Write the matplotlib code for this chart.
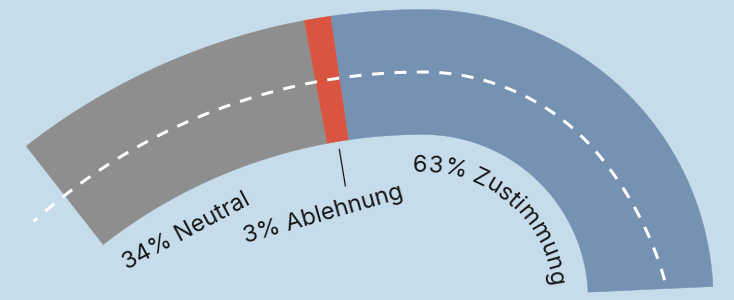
import numpy as np
import matplotlib
matplotlib.use("Agg")
import matplotlib.pyplot as plt
from matplotlib.patches import Polygon
from matplotlib.font_manager import FontProperties, findfont, get_font

plt.rcParams["lines.scale_dashes"] = False

# ---------------- data ----------------
categories = ["Neutral", "Ablehnung", "Zustimmung"]
values = [34, 3, 63]
labels = ["34% Neutral", "3% Ablehnung", "63% Zustimmung"]
colors = ["#8e8e8e", "#d95541", "#7692b3"]

BG = "#c6dcea"
TEXT = "#161616"
FONT = "Inter"
FS = 17.0  # pt

# ---------------- road geometry (pixels, y down) ----------------
W, H = 734, 300
C1 = np.array([423.0, 654.0]); R1 = 582.0     # wide left bend
C2 = np.array([423.0, 299.7]); R2 = 227.7     # tight right bend
HALF = 62.5
PHI_L, PHI_TOP, PHI_R = 128.0, 90.0, 2.6
W_OFF = 108.0

len1 = np.deg2rad(PHI_L - PHI_TOP) * (R1 + W_OFF)
len2 = np.deg2rad(PHI_TOP - PHI_R) * (R2 + W_OFF)
total = len1 + len2


def track_point(u, off):
    s = u * total
    if s <= len1:
        phi = np.deg2rad(PHI_L) - s / (R1 + W_OFF)
        c, r = C1, R1 + off
    else:
        phi = np.deg2rad(PHI_TOP) - (s - len1) / (R2 + W_OFF)
        c, r = C2, R2 + off
    return c[0] + r * np.cos(phi), c[1] - r * np.sin(phi), c, phi


fig = plt.figure(figsize=(7.34, 3.0), dpi=100)
fig.patch.set_facecolor(BG)
ax = fig.add_axes([0, 0, 1, 1])
ax.set_facecolor(BG)
ax.set_xlim(0, W)
ax.set_ylim(H, 0)
ax.axis("off")

fracs = np.array(values, dtype=float) / np.sum(values)
edges = np.concatenate([[0], np.cumsum(fracs)])
for i, col in enumerate(colors):
    us = np.linspace(edges[i], edges[i + 1], 200)
    outer = [track_point(u, HALF)[:2] for u in us]
    inner = [track_point(u, -HALF)[:2] for u in us[::-1]]
    ax.add_patch(Polygon(outer + inner, closed=True, facecolor=col,
                         edgecolor=col, linewidth=0.3, zorder=2))

# ---------------- dashed centre line ----------------
a1 = np.deg2rad(np.linspace(132.0, 90.0, 300))
x1 = C1[0] + R1 * np.cos(a1); y1 = C1[1] - R1 * np.sin(a1)
d2 = np.linspace(90.0, PHI_R, 400)
drift = np.where(d2 < 40, 16.5 * ((40 - d2) / 37.5) ** 2, 0.0)
a2 = np.deg2rad(d2)
x2 = C2[0] + (R2 + drift) * np.cos(a2); y2 = C2[1] - (R2 + drift) * np.sin(a2)
px2pt = 72.0 / 100.0
ax.plot(np.concatenate([x1, x2]), np.concatenate([y1, y2]),
        color="white", lw=3 * px2pt, zorder=3, dash_capstyle="butt",
        linestyle=(7 * px2pt, (12 * px2pt, 10.5 * px2pt)))

# ---------------- labels ----------------
# leader for Ablehnung at the middle of the red segment
um = (edges[1] + edges[2]) / 2
_, _, c, phi = track_point(um, 0)
rin = R1 - HALF
lx = [c[0] + (rin - 8) * np.cos(phi), c[0] + (rin - 45) * np.cos(phi)]
ly = [c[1] - (rin - 8) * np.sin(phi), c[1] - (rin - 45) * np.sin(phi)]
ax.plot(lx, ly, color=TEXT, lw=0.9, zorder=4)

ax.text(186, 232, labels[0], fontsize=FS, family=FONT, color=TEXT,
        rotation=28, ha="center", va="center", rotation_mode="anchor")
ax.text(323, 215, labels[1], fontsize=FS, family=FONT, color=TEXT,
        rotation=16, ha="center", va="center", rotation_mode="anchor")

# curved label for Zustimmung
fp = FontProperties(family=FONT, size=FS)
font = get_font(findfont(fp))
font.set_size(FS, 100)
txt = labels[2]
adv = [font.load_char(ord(ch)).linearHoriAdvance / 65536.0 for ch in txt]
r_base = 128.0
phi0 = np.deg2rad(94.5)
cum = 0.0
for ch, a in zip(txt, adv):
    sc = cum + a / 2.0
    ph = phi0 - sc / r_base
    ax.text(C2[0] + r_base * np.cos(ph), C2[1] - r_base * np.sin(ph), ch,
            fontsize=FS, family=FONT, color=TEXT,
            rotation=np.rad2deg(ph) - 90, ha="center", va="baseline",
            rotation_mode="anchor", zorder=4)
    cum += a

fig.savefig("out.png", dpi=100, facecolor=BG)
